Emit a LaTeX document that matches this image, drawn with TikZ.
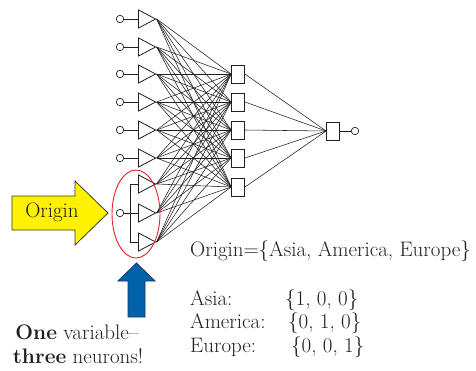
\documentclass[tikz,border=0pt]{standalone}
\usepackage{fontspec}
\usetikzlibrary{shapes.geometric}
\definecolor{NNYellow}{HTML}{FFF200}
\definecolor{NNYellowEdge}{HTML}{3A3A20}
\definecolor{NNBlue}{HTML}{0062AA}
\definecolor{NNBlueEdge}{HTML}{1C3560}
\definecolor{NNRed}{HTML}{E2232A}
\definecolor{NNInk}{HTML}{231F20}
\tikzset{
  wire/.style={NNInk,line width=0.8pt},
  link/.style={NNInk,line width=0.55pt},
  pin/.style={circle,draw=NNInk,line width=0.7pt,fill=white,minimum size=7.5pt,inner sep=0pt},
  inneuron/.style={isosceles triangle,isosceles triangle stretches,draw=NNInk,line width=0.8pt,
                   fill=white,minimum width=18pt,minimum height=17pt,inner sep=0pt},
  cell/.style={rectangle,draw=NNInk,line width=0.8pt,fill=white,minimum width=13pt,
               minimum height=18pt,inner sep=0pt},
  ring/.style={ellipse,draw=NNRed,line width=0.9pt,inner sep=0pt},
  bigarrow/.style={line width=0.8pt,line join=miter},
  txt/.style={text=NNInk,font=\fontsize{21}{24}\selectfont,inner sep=0pt},
}
\begin{document}
\begin{tikzpicture}[x=1pt,y=-1pt]
    \useasboundingbox (0,0) rectangle (476,370);
    % plain inputs
    \foreach \i/\y in {1/19,2/47,3/74,4/102,5/130,6/158}{
      \node[pin] (p\i) at (120,\y) {};
      \node[inneuron] (in\i) at (144,\y) {};
      \draw[wire] (p\i) -- (in\i);
    }
    % one variable, three neurons
    \node[pin] (p7) at (120,213) {};
    \foreach \i/\y in {7/184,8/213,9/242}
      \node[inneuron] (in\i) at (144,\y) {};
    \coordinate (bartop) at (130,184);
    \coordinate (barbot) at (130,242);
    \draw[wire] (p7) -- (p7 -| bartop);
    \draw[wire] (bartop) -- (barbot);
    \foreach \i in {7,8,9}
      \draw[wire] (bartop |- in\i) -- (in\i);

    \foreach \j/\y in {1/74,2/102,3/130,4/158,5/187}
      \node[cell] (h\j) at (238,\y) {};
    \foreach \i in {1,...,9}
      \foreach \j in {1,...,5}
        \draw[link] (in\i.apex) -- (h\j.west);

    \node[cell] (out) at (333,131) {};
    \node[pin] (pout) at (355,131) {};
    \foreach \j in {1,...,5}
      \draw[link] (h\j.east) -- (out.west);
    \draw[wire] (out) -- (pout);

    \node[ring,minimum width=48pt,minimum height=88pt] (grp) at (136,214) {};

    \draw[bigarrow,fill=NNYellow,draw=NNYellowEdge] (12,196) -- (75,196) -- (75,181) -- (108,213)
      -- (75,245) -- (75,230) -- (12,230) -- cycle;
    \node[txt] (orig) at (52,212) {Origin};
    \draw[bigarrow,fill=NNBlue,draw=NNBlueEdge] (136.5,263) -- (155,281) -- (145,281) -- (145,317)
      -- (128,317) -- (128,281) -- (118,281) -- cycle;

    \node[txt,anchor=base] (note1) at (77,339) {\textbf{One} variable–};
    \node[txt,anchor=base] (note2) at (78,363) {\textbf{three} neurons!};

    \node[txt,anchor=base west] (set) at (190,256) {Origin=\{Asia, America, Europe\}};
    \node[txt,anchor=base west] (k1) at (190,305) {Asia:};
    \node[txt,anchor=base west] (k2) at (190,328) {America:};
    \node[txt,anchor=base west] (k3) at (190,352) {Europe:};
    \node[txt,anchor=base west] (v1) at (285,305) {\{1, 0, 0\}};
    \node[txt,anchor=base west] (v2) at (288,328) {\{0, 1, 0\}};
    \node[txt,anchor=base west] (v3) at (291,352) {\{0, 0, 1\}};
  \end{tikzpicture}
\end{document}
